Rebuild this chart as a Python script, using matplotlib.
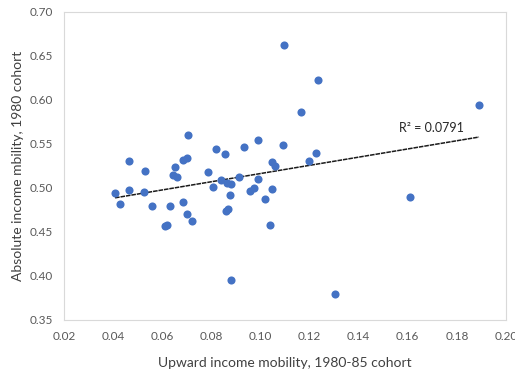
import numpy as np
import matplotlib
matplotlib.use('Agg')
import matplotlib.pyplot as plt

plt.rcParams['font.family'] = ['Lato', 'DejaVu Sans']

# upward income mobility (1980-85 cohort) vs absolute income mobility (1980 cohort)
upward = np.array([0.1096, 0.0704, 0.0466, 0.0528, 0.0408, 0.0465, 0.0526, 0.0652, 0.0642, 0.0659,
                   0.0686, 0.0699, 0.0785, 0.0820, 0.0855, 0.0935, 0.0991, 0.1090, 0.1047, 0.1059,
                   0.0805, 0.0840, 0.0862, 0.0882, 0.0912, 0.0991, 0.0957, 0.0975, 0.1049, 0.0877,
                   0.1017, 0.0429, 0.0560, 0.0631, 0.0686, 0.0699, 0.0722, 0.0610, 0.0621, 0.0859,
                   0.0868, 0.0880, 0.1038, 0.1611, 0.1305, 0.1236, 0.1165, 0.1890, 0.1227, 0.1197])
absolute = np.array([0.662, 0.560, 0.531, 0.519, 0.494, 0.498, 0.496, 0.524, 0.515, 0.512,
                     0.532, 0.534, 0.518, 0.544, 0.539, 0.547, 0.554, 0.549, 0.529, 0.525,
                     0.501, 0.509, 0.506, 0.505, 0.512, 0.510, 0.497, 0.500, 0.499, 0.492,
                     0.4875, 0.482, 0.479, 0.479, 0.484, 0.470, 0.462, 0.457, 0.458, 0.474,
                     0.4765, 0.395, 0.458, 0.490, 0.379, 0.623, 0.586, 0.594, 0.540, 0.531])
r2_label = 'R² = 0.0791'

xticks = np.arange(0.02, 0.2001, 0.02)
yticks = np.arange(0.35, 0.7001, 0.05)

fig = plt.figure(figsize=(5.15, 3.74), dpi=100)
ax = fig.add_axes([0.1243, 0.1444, 0.8582, 0.8236])

ax.scatter(upward, absolute, s=34, color='#4472C4', zorder=3, linewidths=0)

# linear trendline over the data range
slope, intercept = np.polyfit(upward, absolute, 1)
xs = np.array([upward.min(), upward.max()])
ax.plot(xs, slope * xs + intercept, color='#1a1a1a', lw=1.1, linestyle=(0, (3, 0.6)), zorder=2)
ax.text(0.1565, 0.568, r2_label, fontsize=9, color='#262626', va='center', ha='left')

ax.set_xlim(0.02, 0.20)
ax.set_ylim(0.35, 0.70)
ax.set_xticks(xticks)
ax.set_yticks(yticks)
ax.set_xticklabels(['%.2f' % v for v in xticks])
ax.set_yticklabels(['%.2f' % v for v in yticks])
ax.tick_params(length=0, labelsize=8.5, labelcolor='#595959')
ax.tick_params(axis='x', pad=8)
ax.tick_params(axis='y', pad=8)
for s in ax.spines.values():
    s.set_color('#d9d9d9')
    s.set_linewidth(0.8)

ax.set_xlabel('Upward income mobility, 1980-85 cohort', fontsize=10, color='#404040', labelpad=11)
ax.set_ylabel('Absolute income mbility, 1980 cohort', fontsize=10, color='#404040', labelpad=4)

fig.savefig('out.png', dpi=100)
